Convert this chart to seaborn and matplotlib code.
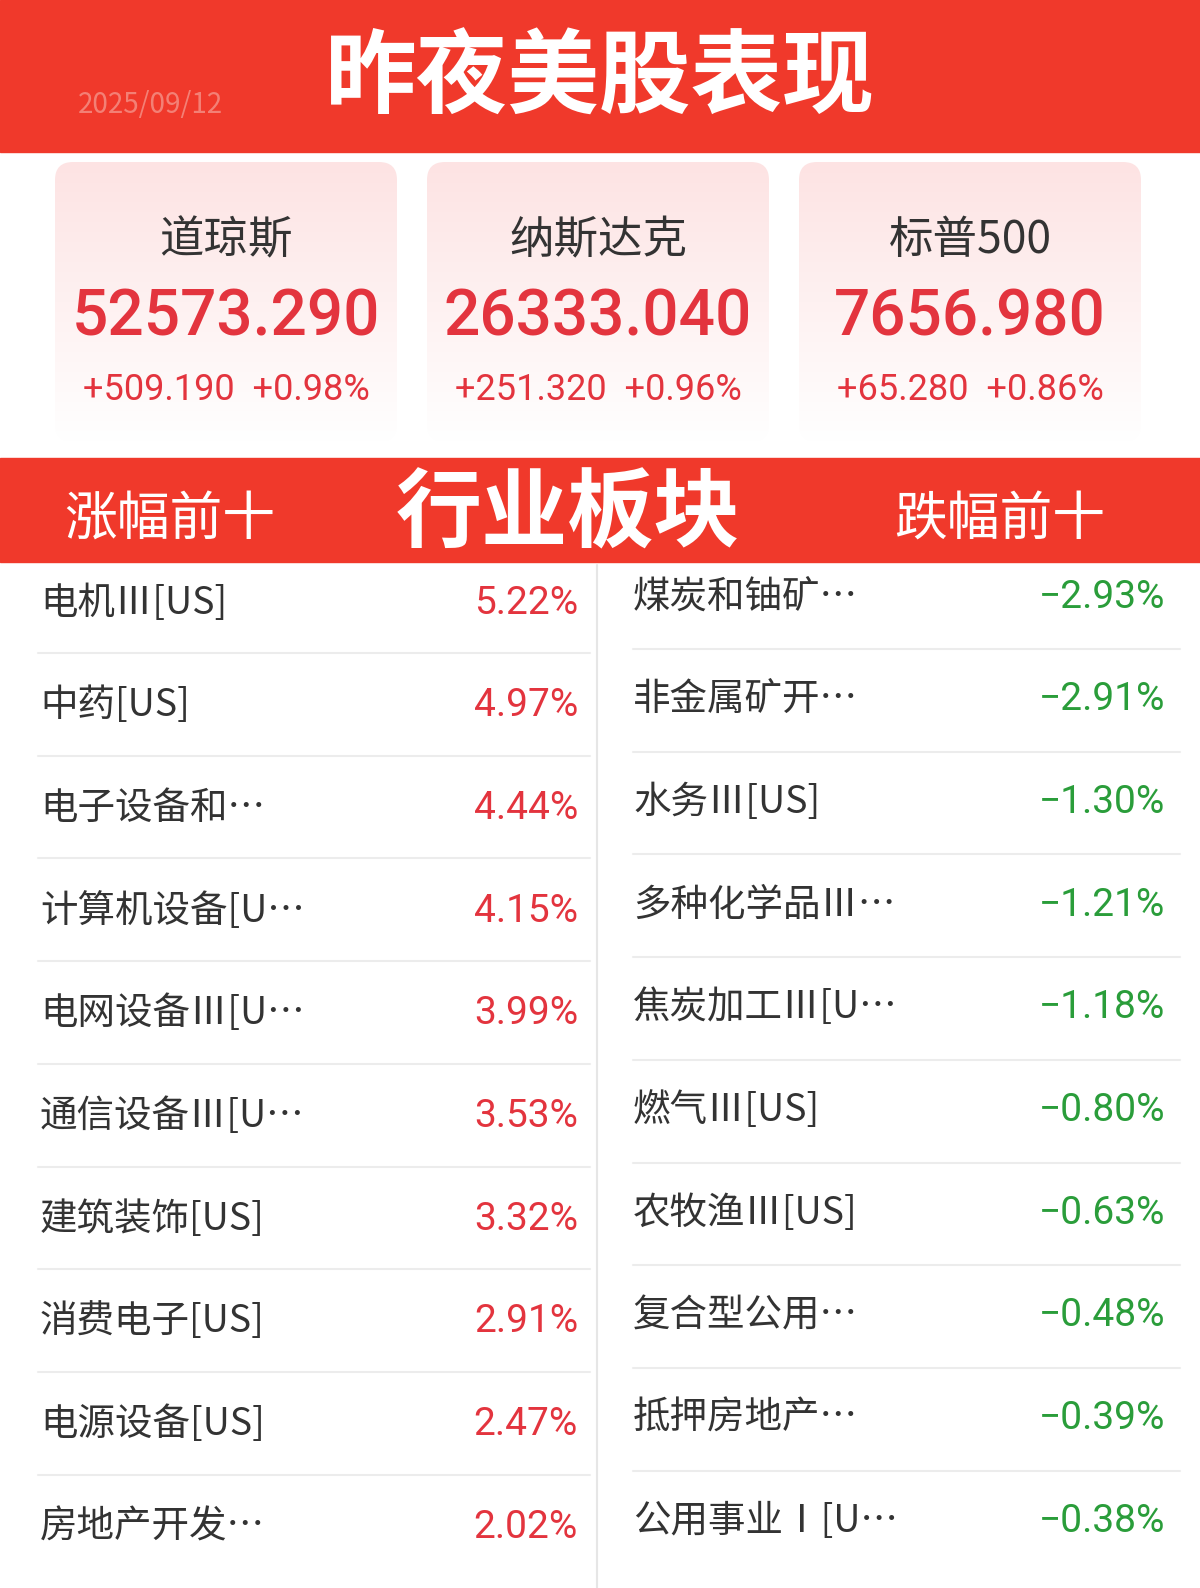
import numpy as np
import matplotlib
matplotlib.use("Agg")
import matplotlib.pyplot as plt
import seaborn as sns
from matplotlib.patches import FancyBboxPatch, Rectangle

sns.set_theme(style="white")
plt.rcParams['font.family'] = ['Noto Sans CJK SC', 'DejaVu Sans']

title = "昨夜美股表现"
index_names = ["道琼斯", "纳斯达克", "标普500"]
index_values = ["52573.290", "26333.040", "7656.980"]
index_changes = ["+509.190", "+251.320", "+65.280"]
index_pcts = ["+0.98%", "+0.96%", "+0.86%"]
gain_names = ["电机Ⅲ[US]", "中药[US]", "电子设备和…", "计算机设备[U…", "电网设备Ⅲ[U…",
              "通信设备Ⅲ[U…", "建筑装饰[US]", "消费电子[US]", "电源设备[US]", "房地产开发…"]
gain_pcts = ["5.22%", "4.97%", "4.44%", "4.15%", "3.99%", "3.53%", "3.32%", "2.91%", "2.47%", "2.02%"]
loss_names = ["煤炭和铀矿…", "非金属矿开…", "水务Ⅲ[US]", "多种化学品Ⅲ…", "焦炭加工Ⅲ[U…",
              "燃气Ⅲ[US]", "农牧渔Ⅲ[US]", "复合型公用…", "抵押房地产…", "公用事业Ⅰ[U…"]
loss_pcts = ["-2.93%", "-2.91%", "-1.30%", "-1.21%", "-1.18%", "-0.80%", "-0.63%", "-0.48%", "-0.39%", "-0.38%"]

RED = "#f0392b"
TXT_RED = "#e3343e"
GREEN = "#2a9d3a"
DARK = "#333333"
NUM = ['Roboto', 'DejaVu Sans']

fig = plt.figure(figsize=(12, 15.88), dpi=100)
ax = fig.add_axes([0, 0, 1, 1])
ax.set_xlim(0, 1200)
ax.set_ylim(1588, 0)
ax.axis("off")

# top banner
ax.add_patch(Rectangle((0, 0), 1200, 152, color=RED, zorder=1))
ax.text(600, 80, title, color="white", fontsize=66, fontweight="bold", ha="center", va="center", zorder=3)
ax.text(150, 105, "2025/09/12", color="#f6b0a8", fontsize=20, ha="center", va="center", zorder=3, alpha=0.6)

# cards
grad = np.linspace(0, 1, 256).reshape(-1, 1)
cmap = matplotlib.colors.LinearSegmentedColormap.from_list("c", ["#fde3e3", "#ffffff"])
for i in range(3):
    x0 = 55 + i * 372
    card = FancyBboxPatch((x0, 162), 342, 280, boxstyle="round,pad=0,rounding_size=18",
                          facecolor="none", edgecolor="none", zorder=2)
    ax.add_patch(card)
    im = ax.imshow(grad, extent=(x0, x0 + 342, 442, 162), cmap=cmap, aspect="auto", zorder=1)
    im.set_clip_path(card)
    cx = x0 + 171
    ax.text(cx, 240, index_names[i], color=DARK, fontsize=32, ha="center", va="center", zorder=3)
    ax.text(cx, 318, index_values[i], color=TXT_RED, fontsize=46, ha="center", va="center",
            family=NUM, fontweight="medium", zorder=3)
    ax.text(cx, 390, index_changes[i] + "  " + index_pcts[i], color=TXT_RED, fontsize=26,
            ha="center", va="center", family=NUM, zorder=3)

# sector band
ax.add_patch(Rectangle((0, 458), 1200, 104, color=RED, zorder=1))
ax.text(170, 520, "涨幅前十", color="white", fontsize=38, ha="center", va="center", zorder=3)
ax.text(568, 515, "行业板块", color="white", fontsize=62, fontweight="bold", ha="center", va="center", zorder=3)
ax.text(1000, 520, "跌幅前十", color="white", fontsize=38, ha="center", va="center", zorder=3)

# rows
ax.axvline(597, ymin=0, ymax=(1588 - 565) / 1588, color="#e6e6e6", lw=1.5)
step = 102.7
for i in range(10):
    yl = 603 + step * i
    yr = 597 + step * i
    ax.text(40, yl, gain_names[i], color=DARK, fontsize=27, ha="left", va="center")
    ax.text(578, yl, gain_pcts[i], color=TXT_RED, fontsize=28, ha="right", va="center", family=NUM)
    ax.text(633, yr, loss_names[i], color=DARK, fontsize=27, ha="left", va="center")
    ax.text(1165, yr, loss_pcts[i].replace("-", "−"), color=GREEN, fontsize=28, ha="right",
            va="center", family=NUM)
    if i < 9:
        ysep = 653 + step * i
        ax.plot([38, 590], [ysep, ysep], color="#ececec", lw=1.5)
        ax.plot([633, 1180], [ysep - 4, ysep - 4], color="#ececec", lw=1.5)

fig.savefig("out.png", dpi=100, facecolor="white")
